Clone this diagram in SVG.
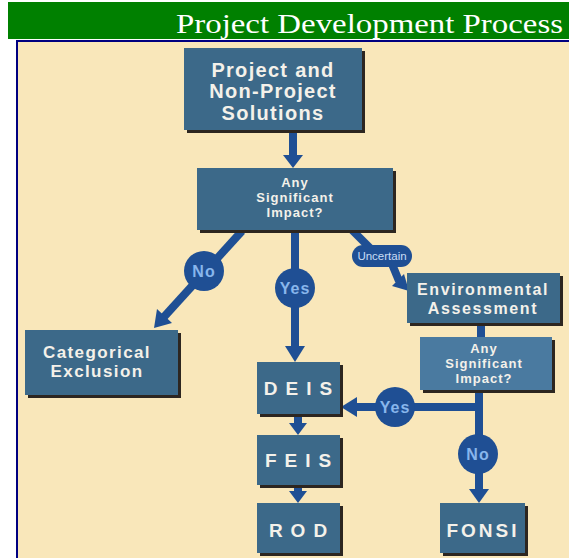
<svg xmlns="http://www.w3.org/2000/svg" width="569" height="558" viewBox="0 0 569 558">
<style>
.box{fill:#3c6989}
.box2{fill:#4a7aa0}
.sh{fill:#2d2620}
.bt{font-family:"Liberation Sans",Arial,sans-serif;font-weight:bold;fill:#f4f1ea;text-anchor:middle}
.ln{stroke:#1f4f94;stroke-width:8;fill:none}
.hd{fill:#1f4f94}
.cir{fill:#1f4f94}
.ct{font-family:"Liberation Sans",Arial,sans-serif;font-weight:bold;fill:#88b6ec;text-anchor:middle;font-size:16px;letter-spacing:1px}
</style>
<rect x="0" y="0" width="569" height="558" fill="#ffffff"/>
<rect x="8" y="2" width="561" height="37" fill="#008000"/>
<text x="176" y="33" font-family="Liberation Serif,'Times New Roman',serif" font-size="28" fill="#ffffff" textLength="387" lengthAdjust="spacingAndGlyphs">Project Development Process</text>
<rect x="17" y="41" width="600" height="600" fill="#f9e7ba" stroke="#000080" stroke-width="2"/>

<g id="connectors">
  <line class="ln" x1="293" y1="130" x2="293" y2="157"/>
  <polygon class="hd" points="283,155 303,155 293,168"/>
  <line class="ln" x1="295" y1="230" x2="295" y2="348"/>
  <polygon class="hd" points="285,346 305,346 295,362"/>
  <line class="ln" x1="242" y1="231" x2="163" y2="318"/>
  <polygon class="hd" points="154,328 172,323 157,309"/>
  <polyline class="ln" points="352,230 372,250"/>
  <polyline class="ln" points="392,264 399,281"/>
  <polygon class="hd" points="409,291 392,286 404,274"/>
  <line class="ln" x1="481" y1="322" x2="481" y2="338"/>
  <line class="ln" x1="479" y1="389" x2="479" y2="490"/>
  <polygon class="hd" points="469,489 489,489 479,503"/>
  <line class="ln" x1="483" y1="407" x2="354" y2="407"/>
  <polygon class="hd" points="357,397 357,417 341,407"/>
  <line class="ln" x1="298" y1="413" x2="298" y2="424"/>
  <polygon class="hd" points="289,423 307,423 298,435"/>
  <line class="ln" x1="298" y1="484" x2="298" y2="492"/>
  <polygon class="hd" points="289,491 307,491 298,503"/>
</g>

<g id="label-no-1">
  <circle class="cir" cx="204" cy="271" r="20"/>
  <text class="ct" x="204" y="277">No</text>
</g>
<g id="label-yes-1">
  <circle class="cir" cx="295" cy="288" r="20"/>
  <text class="ct" x="295" y="294">Yes</text>
</g>
<g id="label-uncertain">
  <rect x="352" y="245" width="60" height="22" rx="11" fill="#1f4f94"/>
  <text x="382" y="260" font-family="Liberation Sans,Arial,sans-serif" font-size="11.5" fill="#c9dcf4" text-anchor="middle">Uncertain</text>
</g>
<g id="label-yes-2">
  <circle class="cir" cx="395" cy="407" r="20"/>
  <text class="ct" x="395" y="413">Yes</text>
</g>
<g id="label-no-2">
  <circle class="cir" cx="478" cy="454" r="20"/>
  <text class="ct" x="478" y="460">No</text>
</g>

<g id="node-solutions">
  <rect class="sh" x="187" y="51" width="178" height="82"/>
  <rect class="box" x="184" y="48" width="178" height="82"/>
  <text class="bt" font-size="20" letter-spacing="1.3" x="273" y="77">Project and</text>
  <text class="bt" font-size="20" letter-spacing="1.3" x="273" y="98">Non-Project</text>
  <text class="bt" font-size="20" letter-spacing="1.3" x="273" y="120">Solutions</text>
</g>
<g id="node-impact-1">
  <rect class="sh" x="200" y="171" width="196" height="62"/>
  <rect class="box" x="197" y="168" width="196" height="62"/>
  <text class="bt" font-size="13" letter-spacing="1" x="295" y="187">Any</text>
  <text class="bt" font-size="13" letter-spacing="1" x="295" y="202">Significant</text>
  <text class="bt" font-size="13" letter-spacing="1" x="295" y="217">Impact?</text>
</g>
<g id="node-categorical">
  <rect class="sh" x="28" y="333" width="153" height="65"/>
  <rect class="box" x="25" y="330" width="153" height="65"/>
  <text class="bt" font-size="17" letter-spacing="1.4" x="97" y="358">Categorical</text>
  <text class="bt" font-size="17" letter-spacing="1.4" x="97" y="377">Exclusion</text>
</g>
<g id="node-env">
  <rect class="sh" x="410" y="276" width="153" height="50"/>
  <rect class="box" x="407" y="273" width="153" height="50"/>
  <text class="bt" font-size="16" letter-spacing="1.6" x="483" y="295">Environmental</text>
  <text class="bt" font-size="16" letter-spacing="1.6" x="483" y="314">Assessment</text>
</g>
<g id="node-impact-2">
  <rect class="sh" x="423" y="340" width="132" height="53"/>
  <rect class="box2" x="420" y="337" width="132" height="53"/>
  <text class="bt" font-size="13" letter-spacing="1" x="484" y="353">Any</text>
  <text class="bt" font-size="13" letter-spacing="1" x="484" y="368">Significant</text>
  <text class="bt" font-size="13" letter-spacing="1" x="484" y="383">Impact?</text>
</g>
<g id="node-deis">
  <rect class="sh" x="260" y="365" width="83" height="52"/>
  <rect class="box" x="257" y="362" width="83" height="52"/>
  <text class="bt" font-size="19" letter-spacing="8" x="302" y="395">DEIS</text>
</g>
<g id="node-feis">
  <rect class="sh" x="260" y="438" width="83" height="50"/>
  <rect class="box" x="257" y="435" width="83" height="50"/>
  <text class="bt" font-size="19" letter-spacing="8" x="302" y="467">FEIS</text>
</g>
<g id="node-rod">
  <rect class="sh" x="260" y="506" width="83" height="50"/>
  <rect class="box" x="257" y="503" width="83" height="50"/>
  <text class="bt" font-size="19" letter-spacing="8" x="302" y="537">ROD</text>
</g>
<g id="node-fonsi">
  <rect class="sh" x="443" y="506" width="85" height="50"/>
  <rect class="box" x="440" y="503" width="85" height="50"/>
  <text class="bt" font-size="19" letter-spacing="3" x="483" y="537">FONSI</text>
</g>
</svg>
